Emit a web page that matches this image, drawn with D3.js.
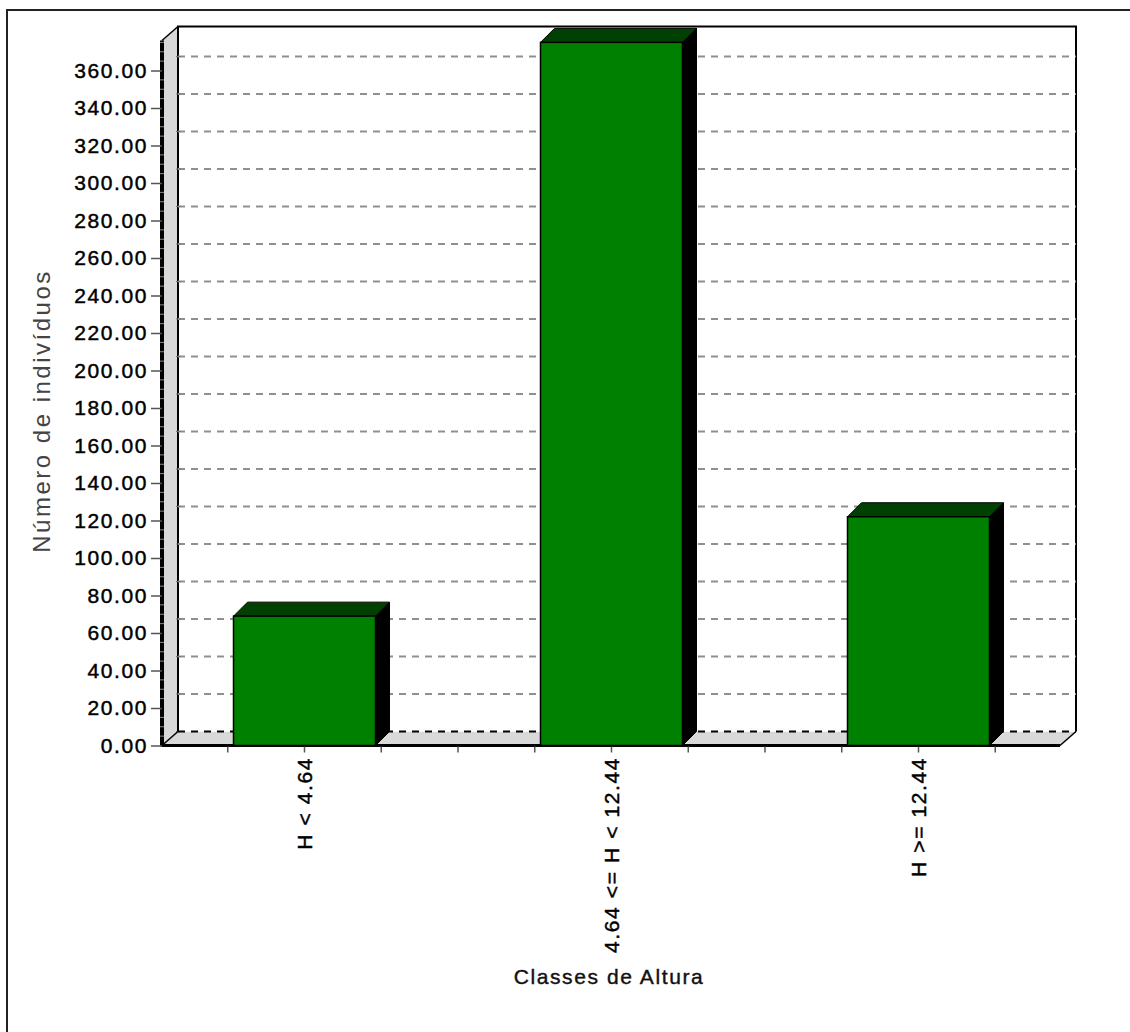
<!DOCTYPE html>
<html><head><meta charset="utf-8">
<script src="https://cdn.jsdelivr.net/npm/d3@7"></script>
<style>body{margin:0;background:#fff}svg{display:block}</style>
</head><body><svg id="c" width="1130" height="1032"></svg>
<script>
const categories = ["H < 4.64", "4.64 <= H < 12.44", "H >= 12.44"];
const counts = [69, 375, 122];
const yTickValues = [0, 20, 40, 60, 80, 100, 120, 140, 160, 180, 200, 220, 240, 260, 280, 300, 320, 340, 360];
const yTitle = "Número de indivíduos";
const xTitle = "Classes de Altura";

const svg = d3.select("#c");
const font = "'Liberation Sans', Arial, sans-serif";
const y = d3.scaleLinear().domain([0, 376]).range([745.5, 40.5]);
const x = d3.scaleBand().domain(categories).range([151, 1072]);
const y0 = y(0), yTop = y.range()[1];
const wdx = 16, wdy = -14, bdx = 14, bdy = -14, bw = 142;
const xL = 162, xR = 1060;

// outer frame
svg.append("path").attr("d", "M7,1032V10H1130").attr("fill", "none").attr("stroke", "#222").attr("stroke-width", 2);

// left wall & floor
svg.append("polygon").attr("points", [[xL, y0], [xL, yTop], [xL + wdx, yTop + wdy], [xL + wdx, y0 + wdy]].join(" ")).attr("fill", "#d9d9d9");
svg.append("polygon").attr("points", [[xL, y0], [xL + wdx, y0 + wdy], [xR + wdx, y0 + wdy], [xR, y0]].join(" ")).attr("fill", "#d9d9d9");

// back wall
svg.append("rect").attr("x", xL + wdx).attr("y", yTop + wdy).attr("width", xR - xL).attr("height", y0 - yTop).attr("fill", "#fff");
svg.append("path").attr("d", `M${xL + wdx},${y0 + wdy}V${yTop + wdy}H${xR + wdx}V${y0 + wdy}`)
  .attr("fill", "none").attr("stroke", "#000").attr("stroke-width", 2);

// gridlines
svg.append("g").selectAll("line").data(yTickValues.filter(v => v > 0)).join("line")
  .attr("x1", xL + wdx).attr("x2", xR + wdx)
  .attr("y1", d => y(d) + wdy).attr("y2", d => y(d) + wdy)
  .attr("stroke", "#8f8f8f").attr("stroke-width", 2).attr("stroke-dasharray", "7,6");
svg.append("g").selectAll("line").data(yTickValues).join("line")
  .attr("x1", xL + wdx - 2).attr("x2", xL + wdx + 3)
  .attr("y1", d => y(d) + wdy).attr("y2", d => y(d) + wdy)
  .attr("stroke", "#777").attr("stroke-width", 1);
svg.append("line").attr("x1", xL + wdx).attr("x2", xR + wdx).attr("y1", y0 + wdy).attr("y2", y0 + wdy)
  .attr("stroke", "#000").attr("stroke-width", 2).attr("stroke-dasharray", "7,6");

// front edges
svg.append("line").attr("x1", xL).attr("x2", xL + wdx).attr("y1", yTop).attr("y2", yTop + wdy).attr("stroke", "#000").attr("stroke-width", 1.5);
svg.append("line").attr("x1", xL).attr("x2", xL + wdx).attr("y1", y0).attr("y2", y0 + wdy).attr("stroke", "#000").attr("stroke-width", 1.5);
svg.append("line").attr("x1", xR).attr("x2", xR + wdx).attr("y1", y0).attr("y2", y0 + wdy).attr("stroke", "#000").attr("stroke-width", 1.5);
svg.append("line").attr("x1", xL).attr("x2", xL).attr("y1", yTop).attr("y2", y0 + 1).attr("stroke", "#000").attr("stroke-width", 4);
svg.append("line").attr("x1", xL).attr("x2", xR).attr("y1", y0).attr("y2", y0).attr("stroke", "#000").attr("stroke-width", 3);

// minor ticks on front axis
svg.append("g").selectAll("line").data(d3.range(5, 376, 5).filter(v => v % 20 !== 0)).join("line")
  .attr("x1", xL - 2).attr("x2", xL + 2).attr("y1", d => y(d)).attr("y2", d => y(d))
  .attr("stroke", "#888").attr("stroke-width", 1);

// bars
const bars = svg.append("g").selectAll("g").data(categories.map((c, i) => ({ c, v: counts[i] }))).join("g");
const bx = d => x(d.c) + (x.bandwidth() - bw) / 2;
bars.append("polygon").attr("points", d => {
  const l = bx(d), t = y(d.v);
  return [[l + bw, t], [l + bw + bdx, t + bdy], [l + bw + bdx, y0 + bdy], [l + bw, y0]].join(" ");
}).attr("fill", "#000").attr("stroke", "#000").attr("stroke-width", 1);
bars.append("polygon").attr("points", d => {
  const l = bx(d), t = y(d.v);
  return [[l, t], [l + bdx, t + bdy], [l + bw + bdx, t + bdy], [l + bw, t]].join(" ");
}).attr("fill", "#004000").attr("stroke", "#000").attr("stroke-width", 1);
bars.append("rect").attr("x", bx).attr("y", d => y(d.v)).attr("width", bw).attr("height", d => y0 - y(d.v))
  .attr("fill", "#008000").attr("stroke", "#000").attr("stroke-width", 1.5);

// y axis
const yAxis = svg.append("g").attr("transform", `translate(${xL},0)`)
  .call(d3.axisLeft(y).tickValues(yTickValues).tickFormat(d3.format(".2f")).tickSize(11).tickPadding(3));
yAxis.select(".domain").remove();
yAxis.selectAll(".tick line").attr("stroke", "#555").attr("stroke-width", 1.5);
yAxis.selectAll(".tick text").attr("font-family", font).attr("font-size", 21).attr("letter-spacing", 1.6)
  .attr("fill", "#000").attr("stroke", "#000").attr("stroke-width", 0.45);

// x ticks
const xt = [];
categories.forEach((c, i) => {
  const b = x(c), s = x.step();
  if (i > 0) xt.push(b);
  xt.push(b + s * 0.25, b + s * 0.5, b + s * 0.75);
});
svg.append("g").selectAll("line").data(xt).join("line")
  .attr("x1", d => d).attr("x2", d => d).attr("y1", y0 + 1).attr("y2", y0 + 7)
  .attr("stroke", "#555").attr("stroke-width", 1.5);

// x labels
svg.append("g").selectAll("text").data(categories).join("text")
  .attr("transform", d => `translate(${x(d) + x.bandwidth() / 2},757) rotate(-90)`)
  .attr("text-anchor", "end").attr("dy", "0.35em")
  .attr("font-family", font).attr("font-size", 21).attr("letter-spacing", 1.6)
  .attr("fill", "#000").attr("stroke", "#000").attr("stroke-width", 0.45)
  .text(d => d);

// titles
svg.append("text").attr("x", 609).attr("y", 977).attr("dy", "0.35em").attr("text-anchor", "middle")
  .attr("font-family", font).attr("font-size", 21).attr("letter-spacing", 1.6)
  .attr("fill", "#111").attr("stroke", "#111").attr("stroke-width", 0.4).text(xTitle);
svg.append("text").attr("transform", "translate(42,411) rotate(-90)").attr("dy", "0.35em").attr("text-anchor", "middle")
  .attr("font-family", font).attr("font-size", 24).attr("letter-spacing", 2.5).attr("fill", "#444").text(yTitle);
</script></body></html>
